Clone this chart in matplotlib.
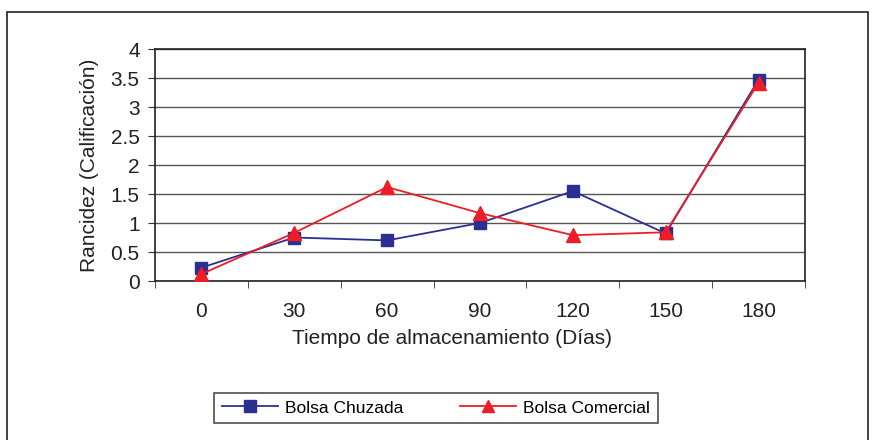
import matplotlib.pyplot as plt
from matplotlib.patches import Rectangle
import numpy as np

plt.rcParams['font.family'] = ['Liberation Sans', 'DejaVu Sans']

dias = ['0', '30', '60', '90', '120', '150', '180']
bolsa_chuzada = [0.23, 0.75, 0.70, 1.00, 1.55, 0.82, 3.47]
bolsa_comercial = [0.12, 0.83, 1.62, 1.17, 0.79, 0.84, 3.42]

fig = plt.figure(figsize=(8.75, 4.4), dpi=100)
ax = fig.add_axes([155 / 875, 1 - 281 / 440, 650 / 875, 232 / 440])

x = np.arange(len(dias))
ax.plot(x, bolsa_chuzada, color='#2b2f92', lw=1.3, marker='s', ms=9,
        mec='#2b2f92', mfc='#2b2f92', label='Bolsa Chuzada', zorder=3)
ax.plot(x, bolsa_comercial, color='#ee1c25', lw=1.3, marker='^', ms=10,
        mec='#ee1c25', mfc='#ee1c25', label='Bolsa Comercial', zorder=4)

ax.set_xlim(-0.5, len(dias) - 0.5)
ax.set_ylim(0, 4)
ax.set_yticks(np.arange(0, 4.01, 0.5))
ax.set_yticklabels(['0', '0.5', '1', '1.5', '2', '2.5', '3', '3.5', '4'])
ax.yaxis.grid(True, color='#555555', lw=1)
ax.set_axisbelow(True)

# category labels centred, tick marks between categories
ax.set_xticks(x)
ax.set_xticklabels(dias)
ax.tick_params(axis='x', length=0, pad=15, labelsize=15)
ax.set_xticks(np.arange(-0.5, len(dias), 1), minor=True)
ax.tick_params(axis='x', which='minor', length=5, direction='out', color='#333333')
ax.tick_params(axis='y', length=5, direction='out', labelsize=15, pad=6, color='#333333')

for s in ax.spines.values():
    s.set_color('#222222')
    s.set_linewidth(1.2)

ax.set_xlabel('Tiempo de almacenamiento (Días)', fontsize=15, color='#222222', labelpad=5)
ax.xaxis.set_label_coords(0.457, -0.205)
ax.set_ylabel('Rancidez (Calificación)', fontsize=15, color='#222222', labelpad=8)
for lbl in ax.get_xticklabels() + ax.get_yticklabels():
    lbl.set_color('#222222')

leg = fig.legend(loc='center', bbox_to_anchor=(436 / 875, 1 - 408 / 440), ncol=2,
                 frameon=True, fancybox=False, fontsize=12.5, handlelength=3.2,
                 columnspacing=3.3, borderpad=0.45, handletextpad=0.4)
leg.get_frame().set_edgecolor('#222222')
leg.get_frame().set_linewidth(1.2)
for h in leg.legend_handles:
    h.set_markersize(8)

# outer frame around the whole chart
fig.patches.append(Rectangle((7 / 875, -0.05), 861 / 875, 1.05 - 12 / 440,
                             transform=fig.transFigure, fill=False,
                             ec='#222222', lw=1.2))

fig.savefig('out.png', dpi=100)
